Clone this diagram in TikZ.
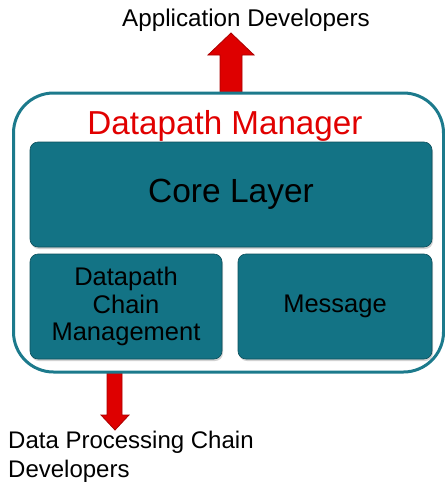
\documentclass[tikz,border=0pt]{standalone}
\usepackage{fontspec}
\setmainfont{Liberation Sans}
\usetikzlibrary{shadows}
\definecolor{tealfill}{RGB}{19,115,133}
\definecolor{tealline}{RGB}{28,122,140}
\definecolor{arrred}{RGB}{222,0,0}
\definecolor{arrdark}{RGB}{170,0,0}
\definecolor{titlered}{RGB}{225,0,0}
\begin{document}
\begin{tikzpicture}[x=1pt,y=-1pt,
  block/.style={draw=tealfill!70!black, line width=0.6pt, fill=tealfill, rounded corners=8pt,
    drop shadow={opacity=0.35, shadow xshift=1pt, shadow yshift=-2pt}},
  bigarrow/.style={fill=arrred, draw=arrdark, line width=0.8pt, line join=miter},
  lbl/.style={font=\fontsize{25.5}{27.5}\selectfont, text=black, align=center}]
\useasboundingbox (0,0) rectangle (445,483);
% arrows (drawn first, under the container border)
\draw[bigarrow] (220,97) -- (220,55) -- (208,55) -- (231,33) -- (254,55) -- (242,55) -- (242,97) -- cycle;
\draw[bigarrow] (107,371) -- (107,415) -- (101,415) -- (115,430) -- (129,415) -- (122,415) -- (122,371) -- cycle;
% container
\node[draw=tealline, line width=3pt, fill=white, rounded corners=40pt,
  minimum width=430pt, minimum height=279pt, inner sep=0pt] (dm) at (228.5,232.5) {};
\node[text=titlered, font=\fontsize{33.2}{36}\selectfont] (title) at (225,126) {Datapath Manager};
% blocks
\node[block, minimum width=402pt, minimum height=105pt, inner sep=0pt,
  font=\fontsize{33.5}{36}\selectfont] (core) at (231,194.5) {Core Layer};
\node[block, lbl, minimum width=192pt, minimum height=105pt, inner sep=0pt] (chain) at (126,306.5) {Datapath\\Chain\\Management};
\node[block, lbl, minimum width=194pt, minimum height=105pt, inner sep=0pt] (msg) at (335,306.5) {Message};
% labels
\node[font=\fontsize{24.2}{27}\selectfont] (app) at (246,20) {Application Developers};
\node[font=\fontsize{24}{28.5}\selectfont, align=left, anchor=north west, inner sep=0pt] (dpc) at (8,431) {Data Processing Chain\\Developers};
\end{tikzpicture}
\end{document}
